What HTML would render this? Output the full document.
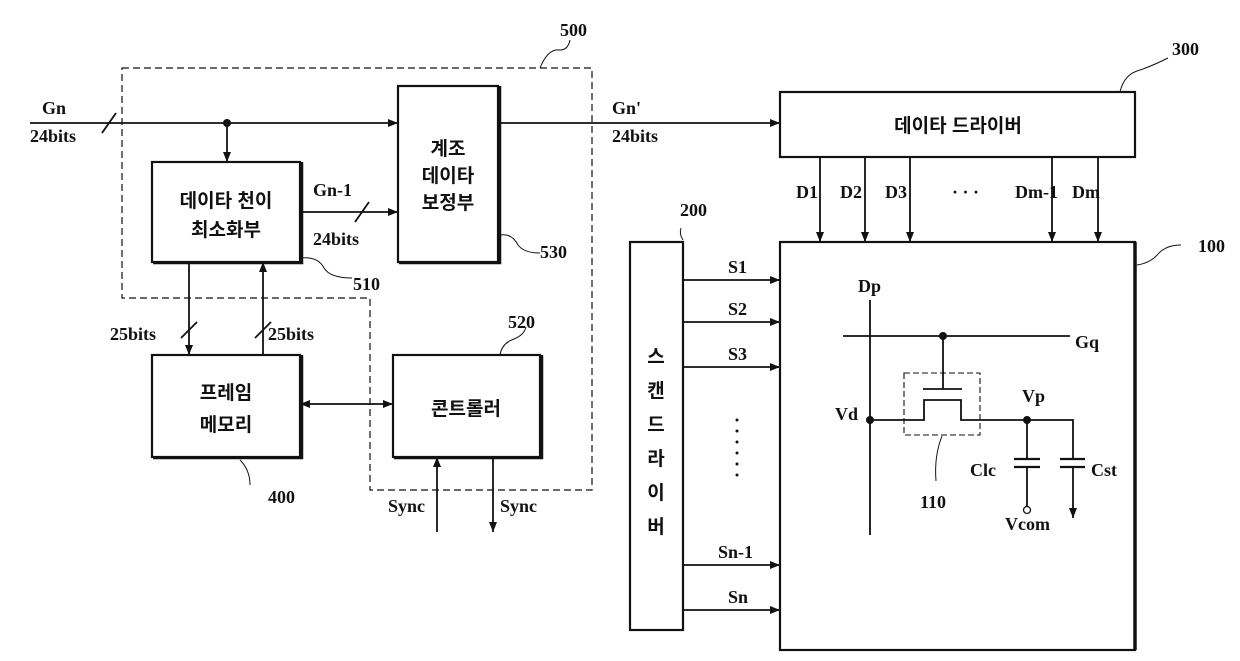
<!DOCTYPE html>
<html><head><meta charset="utf-8"><style>
html,body{margin:0;padding:0;background:#fff;width:1240px;height:661px;overflow:hidden}
svg{display:block}
text{font-family:"Liberation Serif","Noto Serif CJK SC",serif;font-size:18px;fill:#111;font-weight:bold}
.k{font-family:"Liberation Sans","Noto Sans CJK KR",sans-serif;font-size:19px;font-weight:bold}
</style></head><body>
<svg width="1240" height="661" viewBox="0 0 1240 661" xmlns="http://www.w3.org/2000/svg">
<defs>
<marker id="a" markerWidth="10" markerHeight="8" refX="10" refY="4" orient="auto" markerUnits="userSpaceOnUse"><path d="M0,0 L10,4 L0,8 z" fill="#111"/></marker>
<marker id="s" markerWidth="10" markerHeight="8" refX="0" refY="4" orient="auto" markerUnits="userSpaceOnUse"><path d="M10,0 L0,4 L10,8 z" fill="#111"/></marker>
</defs>
<g stroke="#111" stroke-width="1.8" fill="none">
<path d="M122,68 H592 V490 H370 V298 H122 Z" stroke-dasharray="7,4" stroke-width="1.2"/>
<path d="M540,68 q8,-20 20,-18 q8,0 10,-10" stroke-width="1"/>
<line x1="30" y1="123" x2="398" y2="123" marker-end="url(#a)"/>
<line x1="102" y1="133" x2="116" y2="113"/>
<line x1="227" y1="123" x2="227" y2="162" marker-end="url(#a)"/>
<rect x="398" y="86" width="100" height="176" stroke-width="2.2"/>
<rect x="152" y="162" width="148" height="100" stroke-width="2.2"/>
<rect x="152" y="355" width="148" height="102" stroke-width="2.2"/>
<rect x="393" y="355" width="147" height="102" stroke-width="2.2"/>
<path d="M500,86 V263 H399 M302,162 V263 H153 M302,355 V458 H153 M542,355 V458 H394" stroke-width="2.5"/>
<line x1="300" y1="212" x2="398" y2="212" marker-end="url(#a)"/>
<line x1="355" y1="222" x2="369" y2="202"/>
<path d="M500,235 q12,-2 18,10 q6,8 22,8" stroke-width="1"/>
<path d="M300,258 q18,-2 24,10 q6,10 28,10" stroke-width="1"/>
<line x1="189" y1="262" x2="189" y2="355" marker-end="url(#a)"/>
<line x1="263" y1="355" x2="263" y2="262" marker-end="url(#a)"/>
<line x1="181" y1="338" x2="197" y2="322"/>
<line x1="255" y1="338" x2="271" y2="322"/>
<line x1="300" y1="404" x2="393" y2="404" marker-start="url(#s)" marker-end="url(#a)"/>
<path d="M500,355 q2,-12 14,-16 q10,-4 12,-12" stroke-width="1"/>
<path d="M240,460 q10,10 10,25" stroke-width="1"/>
<line x1="437" y1="532" x2="437" y2="457" marker-end="url(#a)"/>
<line x1="493" y1="457" x2="493" y2="532" marker-end="url(#a)"/>
<line x1="498" y1="123" x2="780" y2="123" marker-end="url(#a)"/>
<rect x="780" y="92" width="355" height="65" stroke-width="2.2"/>
<path d="M1120,92 q4,-18 20,-22 q12,-4 28,-12" stroke-width="1"/>
<line x1="820" y1="157" x2="820" y2="242" marker-end="url(#a)"/>
<line x1="865" y1="157" x2="865" y2="242" marker-end="url(#a)"/>
<line x1="910" y1="157" x2="910" y2="242" marker-end="url(#a)"/>
<line x1="1052" y1="157" x2="1052" y2="242" marker-end="url(#a)"/>
<line x1="1098" y1="157" x2="1098" y2="242" marker-end="url(#a)"/>
<rect x="780" y="242" width="355" height="408" stroke-width="2.2"/>
<line x1="1135" y1="242" x2="1135" y2="650" stroke-width="3.5"/>
<path d="M1137,265 q14,-2 22,-12 q8,-8 22,-8" stroke-width="1"/>
<rect x="630" y="242" width="53" height="388" stroke-width="2.2"/>
<path d="M683,240 q-4,-6 -2,-12" stroke-width="1"/>
<line x1="683" y1="280" x2="780" y2="280" marker-end="url(#a)"/>
<line x1="683" y1="322" x2="780" y2="322" marker-end="url(#a)"/>
<line x1="683" y1="367" x2="780" y2="367" marker-end="url(#a)"/>
<line x1="683" y1="565" x2="780" y2="565" marker-end="url(#a)"/>
<line x1="683" y1="610" x2="780" y2="610" marker-end="url(#a)"/>
<line x1="870" y1="300" x2="870" y2="535"/>
<line x1="843" y1="336" x2="1070" y2="336"/>
<line x1="943" y1="336" x2="943" y2="389"/>
<line x1="923" y1="389" x2="962" y2="389"/>
<path d="M870,420 H924 V400 H961 V420 H1073 V459"/>
<rect x="904" y="373" width="76" height="62" stroke-dasharray="6,3" stroke-width="1.1"/>
<path d="M942,436 q-8,20 -6,45" stroke-width="1"/>
<line x1="1027" y1="420" x2="1027" y2="459"/>
<line x1="1014" y1="459" x2="1040" y2="459" stroke-width="2.2"/>
<line x1="1014" y1="467" x2="1040" y2="467" stroke-width="2.2"/>
<line x1="1027" y1="467" x2="1027" y2="507"/>
<circle cx="1027" cy="510" r="3.5" stroke-width="1.3"/>
<line x1="1060" y1="459" x2="1085" y2="459" stroke-width="2.2"/>
<line x1="1060" y1="467" x2="1085" y2="467" stroke-width="2.2"/>
<line x1="1073" y1="467" x2="1073" y2="518" marker-end="url(#a)"/>
</g>
<g fill="#111">
<circle cx="227" cy="123" r="4"/>
<circle cx="943" cy="336" r="4"/>
<circle cx="870" cy="420" r="4"/>
<circle cx="1027" cy="420" r="4"/>
<circle cx="737" cy="420" r="1.5"/><circle cx="737" cy="431" r="1.5"/><circle cx="737" cy="442" r="1.5"/><circle cx="737" cy="453" r="1.5"/><circle cx="737" cy="464" r="1.5"/><circle cx="737" cy="475" r="1.5"/>
</g>
<text x="560" y="36">500</text>
<text x="42" y="114">Gn</text>
<text x="30" y="142">24bits</text>
<text class="k" x="448" y="155" text-anchor="middle">계조</text>
<text class="k" x="448" y="182" text-anchor="middle">데이타</text>
<text class="k" x="448" y="209" text-anchor="middle">보정부</text>
<text class="k" x="226" y="207" text-anchor="middle">데이타 천이</text>
<text class="k" x="226" y="236" text-anchor="middle">최소화부</text>
<text x="313" y="196">Gn-1</text>
<text x="313" y="245">24bits</text>
<text x="540" y="258">530</text>
<text x="353" y="290">510</text>
<text x="110" y="340">25bits</text>
<text x="268" y="340">25bits</text>
<text x="508" y="328">520</text>
<text class="k" x="226" y="399" text-anchor="middle">프레임</text>
<text class="k" x="226" y="431" text-anchor="middle">메모리</text>
<text class="k" x="466" y="415" text-anchor="middle">콘트롤러</text>
<text x="268" y="503">400</text>
<text x="388" y="512">Sync</text>
<text x="500" y="512">Sync</text>
<text x="612" y="114">Gn'</text>
<text x="612" y="142">24bits</text>
<text class="k" x="958" y="132" text-anchor="middle">데이타 드라이버</text>
<text x="1172" y="55">300</text>
<text x="680" y="216">200</text>
<text x="796" y="198">D1</text>
<text x="840" y="198">D2</text>
<text x="885" y="198">D3</text>
<text x="952" y="198">· · ·</text>
<text x="1015" y="198">Dm-1</text>
<text x="1072" y="198">Dm</text>
<text x="1198" y="252">100</text>
<text x="728" y="273">S1</text>
<text x="728" y="315">S2</text>
<text x="728" y="360">S3</text>
<text x="718" y="558">Sn-1</text>
<text x="728" y="603">Sn</text>
<text class="k" x="656" y="363" text-anchor="middle">스</text>
<text class="k" x="656" y="397" text-anchor="middle">캔</text>
<text class="k" x="656" y="431" text-anchor="middle">드</text>
<text class="k" x="656" y="465" text-anchor="middle">라</text>
<text class="k" x="656" y="499" text-anchor="middle">이</text>
<text class="k" x="656" y="533" text-anchor="middle">버</text>
<text x="858" y="292">Dp</text>
<text x="1075" y="348">Gq</text>
<text x="1022" y="402">Vp</text>
<text x="835" y="420">Vd</text>
<text x="970" y="476">Clc</text>
<text x="1091" y="476">Cst</text>
<text x="920" y="508">110</text>
<text x="1005" y="530">Vcom</text>
</svg>
</body></html>
